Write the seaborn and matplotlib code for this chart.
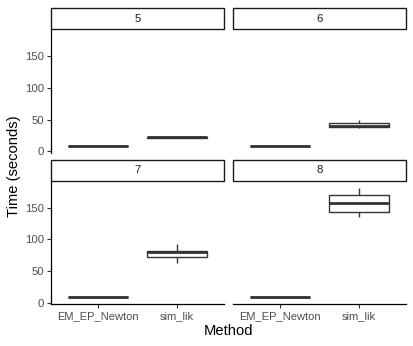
import pandas as pd
import matplotlib
matplotlib.use('Agg')
import matplotlib.pyplot as plt
from matplotlib.patches import Rectangle
import seaborn as sns

# facet values and methods
panels = [5, 6, 7, 8]
methods = ["EM_EP_Newton", "sim_lik"]

# run times (seconds) per panel
em_times = [
    [8.0, 8.3, 8.5, 8.7, 9.0],
    [7.9, 8.2, 8.4, 8.6, 8.9],
    [8.2, 8.5, 8.8, 9.0, 9.3],
    [8.3, 8.6, 8.9, 9.1, 9.4],
]
sim_times = [
    [21.0, 21.5, 22.0, 22.3, 23.0],
    [37.0, 38.0, 40.0, 44.5, 50.0],
    [63.0, 72.0, 80.0, 82.5, 93.5],
    [135.5, 144.0, 158.0, 171.0, 182.0],
]

rows = []
for p, em, sim in zip(panels, em_times, sim_times):
    for v in em:
        rows.append({"n": p, "Method": methods[0], "Time": v})
    for v in sim:
        rows.append({"n": p, "Method": methods[1], "Time": v})
df = pd.DataFrame(rows)

sns.set_theme(style="white")
plt.rcParams['font.family'] = ['Liberation Sans', 'DejaVu Sans']

g = sns.catplot(
    data=df, x="Method", y="Time", col="n", col_wrap=2, kind="box",
    order=methods, color="white", linecolor="#333333", linewidth=1.0,
    width=0.76, showcaps=False, saturation=1,
    medianprops={"linewidth": 2.0, "color": "#333333"},
    height=1.5, aspect=1.2, sharey=True,
)
fig = g.figure
fig.set_size_inches(4.14, 3.46)
fig.subplots_adjust(left=0.123, right=0.981, top=0.916, bottom=0.121,
                    wspace=0.052, hspace=0.226)

tick_color = "#4D4D4D"
for i, (ax, p) in enumerate(zip(g.axes.flat, panels)):
    ax.set_title("")
    ax.set_xlabel("")
    ax.set_ylabel("")
    ax.set_ylim(-2, 193)
    ax.set_xlim(-0.6, 1.6)
    ax.set_yticks([0, 50, 100, 150])
    ax.set_facecolor("white")
    for s in ax.spines.values():
        s.set_visible(False)
    left_col = i % 2 == 0
    bottom_row = i >= 2
    if left_col:
        ax.spines["left"].set_visible(True)
        ax.spines["left"].set_color("black")
        ax.spines["left"].set_linewidth(0.9)
    if bottom_row:
        ax.spines["bottom"].set_visible(True)
        ax.spines["bottom"].set_color("black")
        ax.spines["bottom"].set_linewidth(0.9)
    ax.tick_params(axis="y", left=left_col, labelleft=left_col, length=3,
                   width=0.8, color="#333333", labelcolor=tick_color,
                   labelsize=8.2, pad=2)
    ax.tick_params(axis="x", bottom=bottom_row, labelbottom=bottom_row,
                   length=3, width=0.8, color="#333333",
                   labelcolor=tick_color, labelsize=8.0, pad=2)
    # strip header
    strip = Rectangle((0, 1.0), 1, 0.17, transform=ax.transAxes,
                      facecolor="white", edgecolor="#1A1A1A", linewidth=1.0,
                      clip_on=False)
    ax.add_patch(strip)
    ax.text(0.5, 1.085, str(p), transform=ax.transAxes, ha="center",
            va="center", fontsize=8.2, color="#1A1A1A")

fig.text(0.034, 0.52, "Time (seconds)", rotation=90, ha="center",
         va="center", fontsize=10.6, color="black")
fig.text(0.552, 0.042, "Method", ha="center", va="center", fontsize=10.6,
         color="black")

fig.savefig("out.png", dpi=100, facecolor="white")
